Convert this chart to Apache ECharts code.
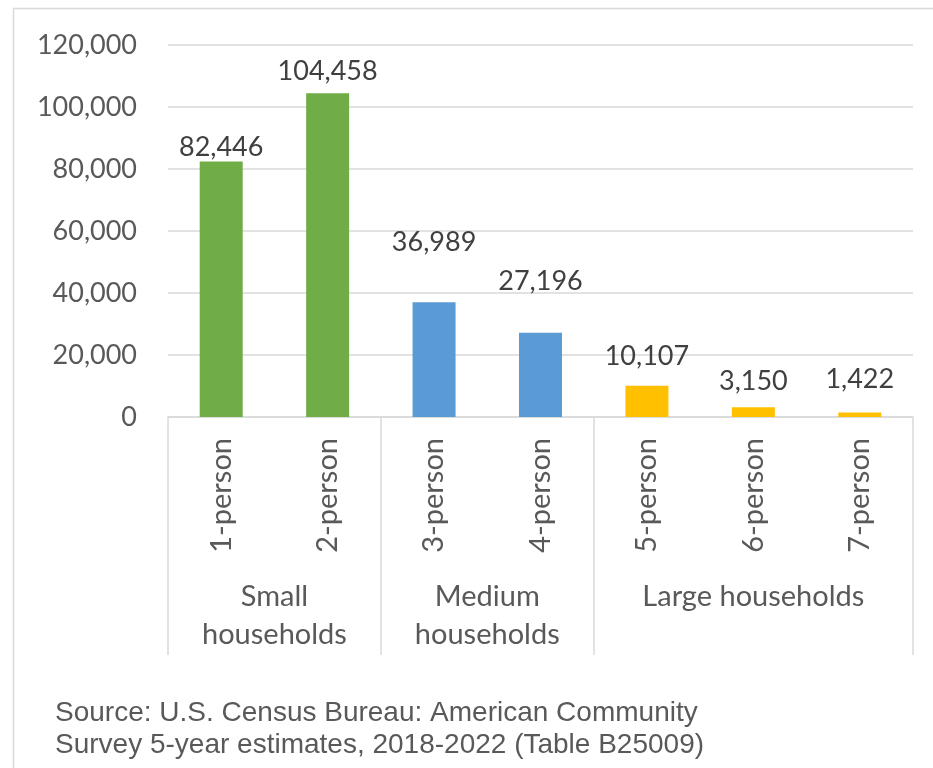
<!DOCTYPE html>
<html>
<head>
<meta charset="utf-8">
<script src="https://cdn.jsdelivr.net/npm/echarts@6/dist/echarts.min.js"></script>
<style>
html,body{margin:0;padding:0;background:#fff;}
#chart{width:933px;height:768px;}
</style>
</head>
<body>
<div id="chart"></div>
<script>
const categories = ['1-person','2-person','3-person','4-person','5-person','6-person','7-person'];
const values = [82446, 104458, 36989, 27196, 10107, 3150, 1422];
const groupNames = ['Small\nhouseholds', 'Medium\nhouseholds', 'Large households'];
const groupSizes = [2, 2, 3];
const groupColors = ['#70AD47', '#5B9BD5', '#FFC000'];
const yTicks = [0, 20000, 40000, 60000, 80000, 100000, 120000];
const sourceText = 'Source: U.S. Census Bureau: American Community\nSurvey 5-year estimates, 2018-2022 (Table B25009)';

// label distances above bars (style only)
const labelDistances = [1, 8, 47, 38, 16, 12, 20];

const FONT = 'Lato';
const fmt = v => v.toLocaleString('en-US');

// group lookup
const groupOf = [];
const boundaryIdx = [];
const groupCenters = [];
let start = 0;
groupSizes.forEach((n, g) => {
  boundaryIdx.push(start);
  groupCenters.push(start + n / 2);
  for (let k = 0; k < n; k++) groupOf.push(g);
  start += n;
});

const chart = echarts.init(document.getElementById('chart'), null, {renderer: 'canvas'});
chart.setOption({
  backgroundColor: '#fff',
  animation: false,
  grid: {left: 168, right: 20, top: 45, bottom: 351, containLabel: false},
  graphic: [
    {type: 'rect', left: 11, top: 6, shape: {width: 940, height: 780}, style: {fill: 'none', stroke: '#d9d9d9', lineWidth: 1.5}, silent: true},
    {type: 'text', left: 55, top: 697, style: {text: sourceText, font: '28px "Liberation Sans", Arial, sans-serif', fill: '#595959', lineHeight: 32}}
  ],
  xAxis: [
    {
      type: 'category',
      data: categories,
      axisLine: {show: true, lineStyle: {color: '#d9d9d9', width: 1.5}},
      axisTick: {
        show: true,
        length: 238,
        interval: (i) => boundaryIdx.indexOf(i) >= 0,
        lineStyle: {color: '#d9d9d9', width: 1.5}
      },
      axisLabel: {
        rotate: 90,
        margin: 21,
        interval: 0,
        fontFamily: FONT,
        fontSize: 29,
        color: '#595959'
      },
      splitLine: {show: false}
    },
    {
      type: 'value',
      position: 'bottom',
      min: 0,
      max: categories.length,
      interval: 0.5,
      axisLine: {show: false},
      axisTick: {show: false},
      splitLine: {show: false},
      axisLabel: {
        margin: 161,
        showMinLabel: true,
        showMaxLabel: true,
        fontFamily: FONT,
        fontSize: 29,
        lineHeight: 38,
        color: '#595959',
        align: 'center',
        formatter: (v) => {
          const g = groupCenters.findIndex(c => Math.abs(c - v) < 1e-6);
          return g >= 0 ? groupNames[g] : '';
        }
      }
    }
  ],
  yAxis: {
    type: 'value',
    min: yTicks[0],
    max: yTicks[yTicks.length - 1],
    interval: yTicks[1] - yTicks[0],
    axisLine: {show: false},
    axisTick: {show: false},
    axisLabel: {
      margin: 31,
      fontFamily: FONT,
      fontSize: 27,
      color: '#595959',
      formatter: v => fmt(v)
    },
    splitLine: {lineStyle: {color: '#d9d9d9', width: 1.5}}
  },
  series: [{
    type: 'bar',
    xAxisIndex: 0,
    barWidth: 43,
    data: values.map((v, i) => ({
      value: v,
      itemStyle: {color: groupColors[groupOf[i]]},
      label: {distance: labelDistances[i]}
    })),
    label: {
      show: true,
      position: 'top',
      fontFamily: FONT,
      fontSize: 27,
      color: '#404040',
      formatter: p => fmt(p.value)
    }
  }]
});
</script>
</body>
</html>
